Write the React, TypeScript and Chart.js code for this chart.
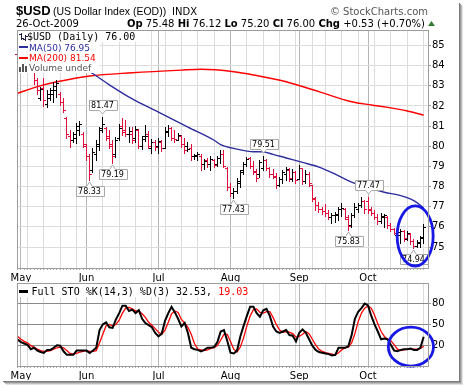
import React, { useEffect, useRef } from "react";
import { Chart, registerables } from "chart.js";

Chart.register(...registerables);

// ---------------- data ----------------
const monthLabels = ["May", "Jun", "Jul", "Aug", "Sep", "Oct"];
const monthStartIdx = [1, 21, 43, 65, 86, 107];
const weekStartIdx = [3, 8, 13, 18, 26, 31, 36, 41, 45, 50, 55, 60, 70, 75, 80, 85, 90, 94, 99, 104, 109, 114, 119, 124];

const opens = [
  84.6, 84.3, 84.1, 83.9, 84.0, 83.8, 83.3, 82.4, 82.9, 82.1,
  82.4, 82.6, 82.8, 82.6, 82.2, 81.4, 80.5, 80.3, 80.4, 80.8,
  80.6, 80.0, 79.5, 78.8, 79.6, 80.0, 80.9, 80.9, 80.5, 80.1,
  79.6, 80.4, 81.0, 80.8, 80.6, 80.6, 80.4, 80.8, 80.0, 80.5,
  80.6, 79.9, 80.2, 80.0, 80.2, 79.9, 80.7, 80.9, 80.4, 80.3,
  80.5, 80.1, 80.0, 79.9, 79.5, 79.5, 79.5, 79.1, 79.3, 79.1,
  79.3, 79.1, 79.4, 79.6, 78.9, 78.0, 77.7, 77.8, 78.2, 78.8,
  79.1, 79.4, 79.0, 78.7, 78.6, 78.9, 79.3, 78.9, 78.6, 78.5,
  78.1, 78.4, 78.6, 78.8, 78.4, 78.7, 78.4, 78.9, 78.3, 78.6,
  78.1, 77.4, 77.1, 76.9, 76.8, 76.7, 76.5, 76.6, 76.6, 76.9,
  76.9, 76.4, 76.1, 76.6, 76.9, 77.1, 77.3, 77.3, 76.9, 76.7,
  76.5, 76.3, 76.5, 76.5, 76.1, 75.9, 75.6, 75.6, 75.8, 75.4,
  75.65, 75.3, 75.05, 75.2, 75.48,
];
const highs = [
  85.0, 84.6, 84.4, 84.3, 84.2, 83.85, 83.4, 82.95, 83.4, 82.8,
  82.9, 83.2, 83.3, 82.7, 82.4, 81.45, 80.8, 80.7, 81.15, 81.25,
  80.7, 80.1, 79.6, 79.9, 80.3, 80.95, 81.47, 80.95, 80.8, 80.3,
  80.45, 81.1, 81.4, 81.3, 80.95, 80.95, 81.0, 80.85, 80.5, 81.05,
  80.75, 80.35, 80.3, 80.4, 80.3, 80.95, 81.05, 80.95, 80.8, 80.65,
  80.55, 80.4, 80.2, 80.1, 79.6, 79.7, 79.6, 79.35, 79.4, 79.5,
  79.35, 79.5, 79.8, 79.8, 78.95, 78.2, 77.95, 78.45, 78.8, 79.2,
  79.45, 79.45, 79.25, 78.85, 79.3, 79.51, 79.35, 78.95, 78.85, 78.65,
  78.5, 78.8, 78.95, 78.9, 78.85, 78.75, 79.05, 78.9, 78.8, 78.7,
  78.1, 77.5, 77.25, 77.0, 77.15, 76.85, 76.7, 76.75, 77.0, 77.2,
  76.95, 76.6, 76.7, 77.2, 77.2, 77.5, 77.35, 77.47, 77.0, 76.85,
  76.65, 76.7, 76.65, 76.55, 76.2, 75.95, 75.85, 75.9, 75.85, 75.8,
  75.7, 75.4, 75.35, 75.55, 76.12,
];
const lows = [
  84.1, 83.9, 83.8, 83.75, 83.75, 83.1, 82.6, 82.3, 82.0, 81.95,
  82.3, 82.2, 82.45, 82.05, 81.7, 80.4, 79.96, 80.2, 80.15, 80.55,
  79.95, 79.3, 78.33, 78.7, 79.3, 79.8, 80.7, 80.3, 79.9, 79.19,
  79.45, 80.3, 80.55, 80.5, 80.2, 80.15, 80.2, 79.9, 79.85, 80.25,
  79.9, 79.65, 79.8, 79.65, 79.75, 79.9, 80.5, 80.3, 80.2, 80.3,
  79.95, 79.65, 79.75, 79.3, 79.35, 79.3, 78.8, 78.85, 78.95, 78.8,
  78.95, 79.0, 79.15, 78.95, 77.85, 77.55, 77.43, 77.7, 78.0, 78.6,
  79.0, 78.9, 78.6, 78.3, 78.5, 78.8, 78.8, 78.5, 78.45, 77.95,
  78.05, 78.2, 78.35, 78.3, 78.3, 78.2, 78.4, 78.15, 78.2, 78.05,
  77.3, 76.85, 76.75, 76.65, 76.55, 76.4, 76.2, 76.25, 76.35, 76.55,
  76.4, 75.83, 76.0, 76.5, 76.75, 77.0, 76.7, 76.7, 76.6, 76.4,
  76.15, 76.2, 76.0, 75.95, 75.8, 75.65, 75.25, 75.2, 75.3, 75.35,
  75.15, 74.94, 74.98, 75.0, 75.2,
];
const closes = [
  84.3, 84.1, 83.9, 84.0, 83.8, 83.3, 82.8, 82.85, 82.3, 82.6,
  82.8, 83.0, 83.15, 82.2, 81.8, 80.6, 80.3, 80.6, 81.0, 81.1,
  80.1, 79.5, 78.6, 79.7, 80.1, 80.8, 81.1, 80.4, 80.0, 79.5,
  80.3, 80.9, 80.7, 80.6, 80.75, 80.3, 80.85, 80.0, 80.35, 80.5,
  80.0, 80.2, 79.95, 80.25, 79.9, 80.75, 80.9, 80.4, 80.35, 80.55,
  80.1, 79.8, 79.85, 79.5, 79.55, 79.6, 79.1, 79.25, 79.1, 79.35,
  79.05, 79.4, 79.6, 79.0, 78.0, 77.7, 77.8, 78.3, 78.7, 79.1,
  79.35, 79.0, 78.75, 78.45, 79.2, 79.3, 78.9, 78.6, 78.55, 78.1,
  78.4, 78.7, 78.85, 78.45, 78.7, 78.35, 78.9, 78.3, 78.6, 78.2,
  77.45, 77.1, 76.9, 76.8, 76.7, 76.5, 76.6, 76.65, 76.9, 76.95,
  76.5, 76.05, 76.6, 77.0, 77.1, 77.3, 76.9, 76.85, 76.7, 76.5,
  76.3, 76.55, 76.6, 76.1, 75.9, 75.7, 75.75, 75.8, 75.45, 75.7,
  75.3, 75.05, 75.25, 75.47, 76.0,
];

const ma50Idx = [0, 8, 16, 23, 28, 35, 43, 52, 60, 62, 67, 72, 75, 78, 82, 87, 92, 97, 102, 107, 112, 117, 121, 124];
const ma50Val = [85.5, 85.0, 84.3, 83.6, 83.05, 82.35, 81.7, 80.95, 80.3, 80.08, 79.86, 79.73, 79.72, 79.6, 79.42, 79.2, 78.97, 78.62, 78.22, 77.95, 77.72, 77.55, 77.3, 76.95];
const ma200Idx = [0, 6, 12, 22, 35, 50, 56, 66, 72, 82, 92, 102, 108, 113, 119, 124];
const ma200Val = [82.63, 82.96, 83.2, 83.49, 83.65, 83.78, 83.82, 83.7, 83.54, 83.2, 82.71, 82.21, 82.05, 81.93, 81.75, 81.54];

const extremeIdx = [26, 22, 29, 66, 75, 101, 107, 121];
const extremeVal = [81.47, 78.33, 79.19, 77.43, 79.51, 75.83, 77.47, 74.94];
const extremeSide = ["high", "low", "low", "low", "high", "low", "high", "low"];

const priceTicks = [75, 76, 77, 78, 79, 80, 81, 82, 83, 84, 85];
const stoTicks = [20, 50, 80];

const stoK = [
  28.5, 25, 23, 21, 15, 17, 13, 11, 9.6, 14,
  14, 17, 20.5, 20, 12, 7, 7, 7, 13, 13,
  13, 13, 9.6, 13, 17, 42, 50, 53, 46, 45,
  57, 66, 76.5, 76.5, 69, 71, 66, 70, 58, 52,
  49, 46, 38, 33, 37, 55, 66, 75, 67, 58,
  47, 52, 38, 17, 15, 14, 12, 14, 17, 17,
  18, 25, 40, 42, 27, 10, 9, 13, 33, 48,
  62, 75, 75, 66, 61, 70, 72, 62, 47, 40,
  38, 40, 42, 35, 34, 26, 38, 43, 38, 29,
  20, 14, 11, 10, 9, 8, 6, 7, 17, 17,
  17, 19, 35, 58, 68, 73, 79.5, 77, 62, 50,
  40, 29, 30, 29, 21, 13, 12, 14, 15, 15,
  16, 14, 14, 17, 32.53,
];
const stoD = [
  33, 29, 26, 24, 20, 18, 15, 13, 12, 12,
  13, 15, 17, 18, 17, 13, 9, 8, 9, 11,
  12, 13, 12, 12, 13, 24, 36, 48, 50, 48,
  50, 56, 66, 73, 74, 72, 69, 69, 65, 60,
  53, 49, 44, 39, 36, 42, 53, 65, 69, 67,
  57, 52, 46, 36, 23, 15, 14, 13, 14, 16,
  17, 20, 28, 36, 36, 26, 15, 11, 18, 31,
  48, 62, 71, 72, 67, 66, 68, 68, 60, 50,
  42, 39, 40, 39, 37, 32, 33, 36, 40, 37,
  29, 21, 15, 12, 10, 9, 8, 7, 10, 14,
  17, 18, 24, 37, 54, 66, 73, 76, 73, 63,
  51, 40, 33, 29, 27, 21, 15, 13, 14, 15,
  15, 15, 15, 16, 19.03,
];

// ---------------- styling / layout constants ----------------
const W = 464;
const H = 387;
const X_MIN = -0.21;
const X_MAX = 125.63;
const FONT = '"DejaVu Sans", Verdana, sans-serif';
const MONO = '"DejaVu Sans Mono", monospace';
const ARIAL = '"Liberation Sans", Arial, sans-serif';
const BAR_BLACK = "#000000";
const BAR_RED = "#e0103c";
const MA50_COLOR = "#2d2d9e";
const MA200_COLOR = "#ff0000";
const CIRCLE_COLOR = "#1818e6";
const priceCircle = { idx: 121.4, val: 75.55, rIdx: 5.5, rVal: 1.49 };
const stoCircle = { idx: 120.1, val: 18.6, rIdx: 6.9, rVal: 27.6 };

const last = closes.length - 1;

function barColor(i: number) {
  const prev = i > 0 ? closes[i - 1] : opens[i];
  return closes[i] >= prev ? BAR_BLACK : BAR_RED;
}

function makeXScale() {
  return {
    type: "linear",
    min: X_MIN,
    max: X_MAX,
    offset: false,
    afterBuildTicks: (scale: any) => {
      scale.ticks = closes.map((_, i) => ({ value: i }));
    },
    afterFit: (scale: any) => {
      scale.height = 14;
    },
    ticks: {
      autoSkip: false,
      maxRotation: 0,
      minRotation: 0,
      padding: 2,
      color: "#000",
      font: { family: FONT, size: 10 },
      callback: (v: number) => {
        const k = monthStartIdx.indexOf(v);
        return k >= 0 ? monthLabels[k] : "";
      },
    },
    grid: {
      offset: false,
      color: (ctx: any) => {
        const v = ctx.tick ? ctx.tick.value : -1;
        if (monthStartIdx.includes(v)) return "#b6b6b6";
        if (weekStartIdx.includes(v)) return "#dcdcdc";
        return "rgba(0,0,0,0)";
      },
      tickColor: "#a8a8a8",
      tickLength: 2,
      lineWidth: 1,
    },
    border: { display: false },
  };
}

function drawFrame(ctx: CanvasRenderingContext2D) {
  const shades = ["#7a7a7a", "#9a9a9a", "#bdbdbd", "#e2e2e2"];
  shades.forEach((c, k) => {
    ctx.fillStyle = c;
    ctx.fillRect(459 + k, 3 + k, 1, 379);
    ctx.fillRect(3 + k, 381 + k, 457, 1);
  });
}

function drawHeader(ctx: CanvasRenderingContext2D) {
  ctx.textBaseline = "alphabetic";
  ctx.textAlign = "left";
  ctx.fillStyle = "#000";
  ctx.font = `bold 13px ${ARIAL}`;
  ctx.fillText("$USD", 16, 15);
  ctx.font = `10.5px ${ARIAL}`;
  ctx.fillText("(US Dollar Index (EOD))", 53, 14.5);
  ctx.font = `10px ${FONT}`;
  ctx.fillText("INDX", 172, 14.5);
  ctx.fillStyle = "#555";
  ctx.textAlign = "right";
  ctx.fillText("\u00a9 StockCharts.com", 428, 14.5);
  ctx.textAlign = "left";
  ctx.fillStyle = "#000";
  ctx.fillText("26-Oct-2009", 16, 26.5);

  const chg = closes[last] - closes[last - 1];
  const pct = (chg / closes[last - 1]) * 100;
  const parts: [string, boolean][] = [
    ["Op", true], [` ${opens[last].toFixed(2)} `, false],
    ["Hi", true], [` ${highs[last].toFixed(2)} `, false],
    ["Lo", true], [` ${lows[last].toFixed(2)} `, false],
    ["Cl", true], [` ${closes[last].toFixed(2)} `, false],
    ["Chg", true], [` +${chg.toFixed(2)} (+${pct.toFixed(2)}%)`, false],
  ];
  let x = 127;
  parts.forEach(([t, b]) => {
    ctx.font = `${b ? "bold " : ""}10px ${FONT}`;
    ctx.fillText(t, x, 26.5);
    x += ctx.measureText(t).width;
  });
  ctx.fillStyle = "#2f7d32";
  ctx.beginPath();
  ctx.moveTo(x + 3, 26);
  ctx.lineTo(x + 10, 26);
  ctx.lineTo(x + 6.5, 21);
  ctx.closePath();
  ctx.fill();
}

function drawOHLC(chart: any, meta: any) {
  const ctx = chart.ctx as CanvasRenderingContext2D;
  const ys = chart.scales.y;
  ctx.save();
  meta.data.forEach((el: any, i: number) => {
    const xr = Math.floor(el.x);
    const yh = Math.round(ys.getPixelForValue(highs[i]));
    const yl = Math.round(ys.getPixelForValue(lows[i]));
    const yo = Math.round(ys.getPixelForValue(opens[i]));
    const yc = Math.round(ys.getPixelForValue(closes[i]));
    ctx.fillStyle = barColor(i);
    ctx.fillRect(xr, yh, 1, Math.max(1, yl - yh + 1));
    ctx.fillRect(xr - 2, yo, 2, 1);
    ctx.fillRect(xr + 1, yc, 2, 1);
  });
  ctx.restore();
}

function drawExtremes(chart: any) {
  const ctx = chart.ctx as CanvasRenderingContext2D;
  const xs = chart.scales.x;
  const ys = chart.scales.y;
  ctx.save();
  ctx.font = `8px ${FONT}`;
  ctx.lineWidth = 1;
  extremeIdx.forEach((idx, k) => {
    const val = extremeVal[k];
    const high = extremeSide[k] === "high";
    const xp = Math.floor(xs.getPixelForValue(idx)) + 0.5;
    const yp = Math.round(ys.getPixelForValue(val));
    const txt = val.toFixed(2);
    const w = Math.round(ctx.measureText(txt).width) + 5;
    const h = 10;
    const left = Math.round(xp - w / 2) + 0.5;
    const right = left + w;
    ctx.beginPath();
    let top: number;
    let bottom: number;
    if (high) {
      bottom = yp - 7 + 0.5;
      top = bottom - h;
      ctx.moveTo(left, top);
      ctx.lineTo(right, top);
      ctx.lineTo(right, bottom);
      ctx.lineTo(xp + 3, bottom);
      ctx.lineTo(xp, yp - 3);
      ctx.lineTo(xp - 3, bottom);
      ctx.lineTo(left, bottom);
    } else {
      top = yp + 6 + 0.5;
      bottom = top + h;
      ctx.moveTo(left, top);
      ctx.lineTo(xp - 3, top);
      ctx.lineTo(xp, yp + 2);
      ctx.lineTo(xp + 3, top);
      ctx.lineTo(right, top);
      ctx.lineTo(right, bottom);
      ctx.lineTo(left, bottom);
    }
    ctx.closePath();
    ctx.fillStyle = "#fff";
    ctx.fill();
    ctx.strokeStyle = "#a8a8a8";
    ctx.stroke();
    ctx.fillStyle = "#000";
    ctx.textAlign = "center";
    ctx.textBaseline = "middle";
    ctx.fillText(txt, xp, (top + bottom) / 2 + 0.5);
  });
  ctx.restore();
}

function drawPriceLegend(chart: any) {
  const ctx = chart.ctx as CanvasRenderingContext2D;
  const { left, top } = chart.chartArea;
  ctx.save();
  ctx.textAlign = "left";
  ctx.textBaseline = "alphabetic";
  const t1 = `$USD (Daily) ${closes[last].toFixed(2)}`;
  const t2 = `MA(50) ${ma50Val[ma50Val.length - 1].toFixed(2)}`;
  const t3 = `MA(200) ${ma200Val[ma200Val.length - 1].toFixed(2)}`;
  const t4 = "Volume undef";
  ctx.font = `10px ${MONO}`;
  const w1 = ctx.measureText(t1).width;
  ctx.font = `9px ${FONT}`;
  const w2 = Math.max(ctx.measureText(t2).width, ctx.measureText(t3).width, ctx.measureText(t4).width);
  ctx.fillStyle = "#fff";
  ctx.fillRect(left + 1, top + 1, 10 + w1 + 3, 11);
  ctx.fillRect(left + 1, top + 11, 12 + w2 + 3, 32);
  // row 1 icon
  ctx.fillStyle = "#1c1c44";
  ctx.fillRect(left + 4, top + 3, 1, 7);
  ctx.fillRect(left + 2, top + 4, 2, 1);
  ctx.fillRect(left + 5, top + 8, 2, 1);
  ctx.fillRect(left + 8, top + 5, 1, 6);
  ctx.fillRect(left + 6, top + 9, 2, 1);
  ctx.fillRect(left + 9, top + 6, 2, 1);
  ctx.fillStyle = "#000";
  ctx.font = `10px ${MONO}`;
  ctx.fillText(t1, left + 10, top + 9.5);
  // row 2
  ctx.font = `9px ${FONT}`;
  ctx.fillStyle = MA50_COLOR;
  ctx.fillRect(left + 2, top + 16, 9, 2);
  ctx.fillText(t2, left + 12, top + 20.5);
  // row 3
  ctx.fillStyle = MA200_COLOR;
  ctx.fillRect(left + 2, top + 27, 9, 2);
  ctx.fillText(t3, left + 12, top + 31.3);
  // row 4
  ctx.fillStyle = "#555";
  ctx.fillRect(left + 2, top + 37, 2, 5);
  ctx.fillRect(left + 5, top + 34, 2, 8);
  ctx.fillRect(left + 8, top + 36, 2, 6);
  ctx.fillText(t4, left + 12, top + 41.3);
  ctx.restore();
}

function drawEllipse(chart: any, c: { idx: number; val: number; rIdx: number; rVal: number }) {
  const ctx = chart.ctx as CanvasRenderingContext2D;
  const xs = chart.scales.x;
  const ys = chart.scales.y;
  const cx = xs.getPixelForValue(c.idx);
  const cy = ys.getPixelForValue(c.val);
  const rx = Math.abs(xs.getPixelForValue(c.idx + c.rIdx) - cx);
  const ry = Math.abs(ys.getPixelForValue(c.val + c.rVal) - cy);
  ctx.save();
  ctx.strokeStyle = CIRCLE_COLOR;
  ctx.lineWidth = 2.8;
  ctx.beginPath();
  ctx.ellipse(cx, cy, rx, ry, 0, 0, Math.PI * 2);
  ctx.stroke();
  ctx.restore();
}

function drawPanelBorder(chart: any) {
  const ctx = chart.ctx as CanvasRenderingContext2D;
  const { left, top, right, bottom } = chart.chartArea;
  ctx.save();
  ctx.strokeStyle = "#9c9c9c";
  ctx.lineWidth = 1;
  ctx.strokeRect(left + 0.5, top + 0.5, right - left - 1, bottom - top);
  ctx.restore();
}

const pricePlugin = {
  id: "priceDecor",
  beforeDraw(chart: any) {
    const ctx = chart.ctx as CanvasRenderingContext2D;
    ctx.save();
    ctx.fillStyle = "#fff";
    ctx.fillRect(0, 0, W, H);
    drawFrame(ctx);
    drawHeader(ctx);
    ctx.restore();
  },
  beforeDatasetDraw(chart: any, args: any) {
    if (args.index !== 0) return;
    drawOHLC(chart, args.meta);
    return false;
  },
  afterDatasetsDraw(chart: any) {
    drawExtremes(chart);
    drawPriceLegend(chart);
    drawEllipse(chart, priceCircle);
    drawPanelBorder(chart);
  },
};

const stoPlugin = {
  id: "stoDecor",
  afterDatasetsDraw(chart: any) {
    const ctx = chart.ctx as CanvasRenderingContext2D;
    const { left, top } = chart.chartArea;
    ctx.save();
    ctx.font = `10px ${MONO}`;
    ctx.textAlign = "left";
    ctx.textBaseline = "alphabetic";
    const a = `Full STO %K(14,3) %D(3) ${stoK[last].toFixed(2)}, `;
    const b = stoD[last].toFixed(2);
    const wa = ctx.measureText(a).width;
    const wb = ctx.measureText(b).width;
    ctx.fillStyle = "#fff";
    ctx.fillRect(left + 1, top + 1, 14 + wa + wb + 3, 13);
    ctx.fillStyle = "#000";
    ctx.fillRect(left + 2, top + 7, 9, 3);
    ctx.fillText(a, left + 14.5, top + 11.5);
    ctx.fillStyle = "#ff0000";
    ctx.fillText(b, left + 14.5 + wa, top + 11.5);
    ctx.restore();
    drawEllipse(chart, stoCircle);
    drawPanelBorder(chart);
  },
};

export default function App() {
  const priceRef = useRef<HTMLCanvasElement>(null);
  const stoRef = useRef<HTMLCanvasElement>(null);

  useEffect(() => {
    document.body.style.margin = "0";
    const priceChart = new Chart(priceRef.current as HTMLCanvasElement, {
      type: "bar",
      data: {
        datasets: [
          {
            type: "bar",
            label: "$USD",
            data: closes.map((_, i) => ({ x: i, y: [lows[i], highs[i]] })),
            backgroundColor: closes.map((_, i) => barColor(i)),
            barThickness: 1,
            grouped: false,
          } as any,
          {
            type: "line",
            label: "MA(50)",
            data: ma50Idx.map((x, k) => ({ x, y: ma50Val[k] })),
            borderColor: MA50_COLOR,
            borderWidth: 1.4,
            pointRadius: 0,
            cubicInterpolationMode: "monotone",
          } as any,
          {
            type: "line",
            label: "MA(200)",
            data: ma200Idx.map((x, k) => ({ x, y: ma200Val[k] })),
            borderColor: MA200_COLOR,
            borderWidth: 1.4,
            pointRadius: 0,
            cubicInterpolationMode: "monotone",
          } as any,
        ],
      },
      options: {
        responsive: false,
        animation: false,
        events: [],
        devicePixelRatio: 1,
        layout: { padding: { left: 17, top: 30, right: 0, bottom: 105 } },
        plugins: { legend: { display: false }, tooltip: { enabled: false } },
        scales: {
          x: makeXScale() as any,
          y: {
            type: "linear",
            position: "right",
            min: 73.96,
            max: 85.77,
            beginAtZero: false,
            afterBuildTicks: (scale: any) => {
              scale.ticks = priceTicks.map((v) => ({ value: v }));
            },
            afterFit: (scale: any) => {
              scale.width = 35;
            },
            ticks: {
              padding: 1,
              color: "#000",
              font: { family: FONT, size: 10 },
              callback: (v: number) => String(v),
            },
            grid: { color: "#dcdcdc", tickColor: "#999", tickLength: 2 },
            border: { display: false },
          } as any,
        },
      },
      plugins: [pricePlugin],
    } as any);

    const stoChart = new Chart(stoRef.current as HTMLCanvasElement, {
      type: "line",
      data: {
        datasets: [
          {
            label: "%K",
            data: stoK.map((v, i) => ({ x: i, y: v })),
            borderColor: "#000000",
            borderWidth: 2,
            pointRadius: 0,
            tension: 0,
          },
          {
            label: "%D",
            data: stoD.map((v, i) => ({ x: i, y: v })),
            borderColor: "#ff0000",
            borderWidth: 1.3,
            pointRadius: 0,
            tension: 0,
          },
        ],
      },
      options: {
        responsive: false,
        animation: false,
        events: [],
        devicePixelRatio: 1,
        layout: { padding: { left: 17, top: 7, right: 0, bottom: 2 } },
        plugins: { legend: { display: false }, tooltip: { enabled: false } },
        scales: {
          x: makeXScale() as any,
          y: {
            type: "linear",
            position: "right",
            min: -8.8,
            max: 108.6,
            afterBuildTicks: (scale: any) => {
              scale.ticks = stoTicks.map((v) => ({ value: v }));
            },
            afterFit: (scale: any) => {
              scale.width = 35;
            },
            ticks: {
              padding: 1,
              color: "#000",
              font: { family: FONT, size: 10 },
              callback: (v: number) => String(v),
            },
            grid: {
              color: "#8a8a8a",
              tickColor: "#999",
              tickLength: 2,
              borderDash: (ctx: any) => (ctx.tick && ctx.tick.value === 50 ? [6, 2, 2, 2] : []),
            },
            border: { display: false },
          } as any,
        },
      },
      plugins: [stoPlugin],
    } as any);

    return () => {
      priceChart.destroy();
      stoChart.destroy();
    };
  }, []);

  return (
    <div style={{ position: "absolute", left: 0, top: 0, width: W, height: H, overflow: "hidden", background: "#fff" }}>
      <canvas ref={priceRef} width={W} height={H} style={{ position: "absolute", left: 0, top: 0, width: W, height: H }} />
      <canvas ref={stoRef} width={W} height={106} style={{ position: "absolute", left: 0, top: 276, width: W, height: 106 }} />
    </div>
  );
}
